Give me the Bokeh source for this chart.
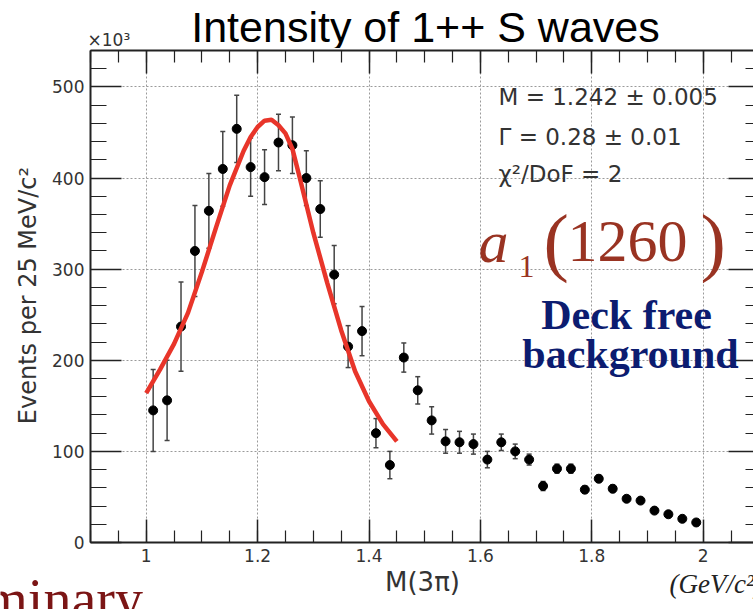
import math
from bokeh.plotting import figure
from bokeh.layouts import column, row
from bokeh.models import (ColumnDataSource, Whisker, TeeHead, LinearAxis,
                          FixedTicker, Label, Range1d)
from bokeh.embed import file_html
from bokeh.resources import INLINE

# 3-pion invariant mass, 25 MeV bins (GeV/c^2)
mass_bins = [1.0125, 1.0375, 1.0625, 1.0875, 1.1125, 1.1375, 1.1625, 1.1875,
             1.2125, 1.2375, 1.2625, 1.2875, 1.3125, 1.3375, 1.3625, 1.3875,
             1.4125, 1.4375, 1.4625, 1.4875, 1.5125, 1.5375, 1.5625, 1.5875,
             1.6125, 1.6375, 1.6625, 1.6875, 1.7125, 1.7375, 1.7625, 1.7875,
             1.8125, 1.8375, 1.8625, 1.8875, 1.9125, 1.9375, 1.9625, 1.9875]
# intensity of the 1++ S wave, in units of 10^3 events
events = [145, 156, 237, 320, 364, 410, 454, 412, 401, 439, 436, 400, 366, 294,
          215, 232, 120, 85, 203, 167, 134, 111, 110, 108, 91, 110, 100, 91,
          62, 81, 81, 58, 70, 59, 48, 46, 35, 31, 26, 22]
errors = [45, 44, 49, 50, 41, 41, 37, 32, 30, 31, 31, 30, 31, 32, 23, 27, 16,
          15, 16, 15, 15, 13, 12, 11, 9, 9, 8, 6, 5, 5, 5, 4, 4, 4, 3, 3, 3, 3,
          2, 2]

# a1(1260) resonance fit curve
fit_mass = [1.000, 1.025, 1.050, 1.075, 1.100, 1.125, 1.150, 1.175, 1.1875,
            1.200, 1.2125, 1.225, 1.2375, 1.250, 1.2625, 1.275, 1.300, 1.325,
            1.350, 1.375, 1.400, 1.425, 1.450]
fit_events = [164, 190, 218, 252, 297, 345, 392, 430, 445, 456, 463, 464, 458,
              449, 432, 402, 340, 285, 233, 188, 155, 130, 111]

x_major = [1.0, 1.2, 1.4, 1.6, 1.8, 2.0]
x_minor = [round(0.9 + 0.05 * i, 2) for i in range(25)]
y_major = [0, 100, 200, 300, 400, 500]
y_minor = list(range(0, 541, 20))

fit_text = ["M = 1.242 \u00b1 0.005", "\u0393 = 0.28 \u00b1 0.01", "\u03c7\u00b2/DoF = 2"]

# ---- page geometry (pixels) ----
W, H = 753, 609
TOP_H = 48                 # title strip
LEFT_W = 45                # strip holding the y-axis caption
BOTTOM_Y = 570             # where the caption strip below the plot starts
FL, FT, FB = 90, 50, 542   # plot frame left / top / bottom on the page

MAIN_W = W - LEFT_W
MAIN_H = BOTTOM_Y - TOP_H

X0, X1 = 0.9, 0.9 + (W - FL) / 557.0
Y0, Y1 = 0.0, 540.0

p = figure(width=MAIN_W, height=MAIN_H, x_range=(X0, X1), y_range=(Y0, Y1),
           output_backend="svg", toolbar_location=None,
           min_border_left=FL - LEFT_W, min_border_right=0,
           min_border_top=FT - TOP_H, min_border_bottom=BOTTOM_Y - FB,
           background_fill_color="white", border_fill_color="white",
           outline_line_color=None)

xt = FixedTicker(ticks=x_major, minor_ticks=x_minor)
yt = FixedTicker(ticks=y_major, minor_ticks=y_minor)

AX = "#222222"


def style_axis(ax, major_in, minor_in, ticks, labels=True):
    ax.axis_line_color = AX
    ax.axis_line_width = 2
    ax.major_tick_line_color = AX
    ax.minor_tick_line_color = AX
    ax.major_tick_line_width = 1.5
    ax.minor_tick_line_width = 1.2
    ax.major_tick_in = major_in
    ax.major_tick_out = 0
    ax.minor_tick_in = minor_in
    ax.minor_tick_out = 0
    if labels:
        ax.major_label_text_font = "DejaVu Sans"
        ax.major_label_text_font_size = "17px"
        ax.major_label_text_color = "#333333"
        ax.major_label_standoff = 6
    else:
        # frame ticks only, no numbers on this side
        ax.major_label_overrides = {t: "" for t in ticks}
        ax.major_label_text_color = None
        ax.major_label_text_font_size = "2px"
        ax.major_label_standoff = 0


p.xaxis.ticker = xt
p.yaxis.ticker = yt
p.xaxis.major_label_overrides = {1: "1", 2: "2"}
style_axis(p.xaxis[0], 23, 12, x_major)
style_axis(p.yaxis[0], 31, 16, y_major)

top = LinearAxis(ticker=xt)
style_axis(top, 23, 12, x_major, labels=False)
p.add_layout(top, "above")

right = LinearAxis(ticker=yt)
style_axis(right, 25, 8, y_major, labels=False)
right.axis_line_color = None
p.add_layout(right, "right")

for g, t in ((p.xgrid, xt), (p.ygrid, yt)):
    g.ticker = t
    g.grid_line_color = "#9a9a9a"
    g.grid_line_dash = "2 2"
    g.grid_line_width = 1

src = ColumnDataSource(dict(
    x=mass_bins, y=events,
    upper=[v + e for v, e in zip(events, errors)],
    lower=[v - e for v, e in zip(events, errors)],
))

whisk = Whisker(source=src, base="x", upper="upper", lower="lower",
                line_color="#444444", line_width=1.5,
                upper_head=TeeHead(size=5, line_color="#444444", line_width=1.5),
                lower_head=TeeHead(size=5, line_color="#444444", line_width=1.5))
p.add_layout(whisk)

p.scatter("x", "y", source=src, size=9, color="black")
p.line(fit_mass, fit_events, line_color="#e8352a", line_width=4.5)

# Label anchors sit a little below the true baseline in this renderer;
# lift them by this fraction of the font size.
LIFT = 0.36


def label(fig, text, sx, sy, size, font="DejaVu Sans", color="#333333",
          align="left", baseline="alphabetic", style="normal", angle=0.0,
          dx=0, dy=0):
    """text with its baseline at page pixel (sx, sy); dx, dy = figure offset"""
    if baseline == "alphabetic":
        sy = sy - LIFT * size
    if fig is p:
        x = X0 + (sx - FL) * (X1 - X0) / (W - FL)
        y = Y0 + (FB - sy) * (Y1 - Y0) / (FB - FT)
    else:
        x, y = sx - dx, sy - dy
    fig.add_layout(Label(x=x, y=y, text=text, text_font=font,
                         text_font_size=f"{size}px", text_color=color,
                         text_align=align, text_baseline=baseline,
                         text_font_style=style, angle=angle))


def strip(w, h):
    """blank canvas whose data units are its own pixels (y downwards)"""
    f = figure(width=w, height=h, x_range=Range1d(0, w), y_range=Range1d(h, 0),
               output_backend="svg", toolbar_location=None,
               x_axis_location=None, y_axis_location=None,
               min_border=0, outline_line_color=None,
               background_fill_color="white", border_fill_color="white")
    f.xgrid.visible = False
    f.ygrid.visible = False
    return f


top_strip = strip(W, TOP_H)
left_strip = strip(LEFT_W, MAIN_H)
bottom_strip = strip(W, H - BOTTOM_Y)

# title and axis captions
label(top_strip, "Intensity of 1++ S waves", 425, 42, 43,
      font="Liberation Sans", color="black", align="center")
label(top_strip, "\u00d710\u00b3", 87, 46, 17)
label(left_strip, "Events per 25 MeV/c\u00b2", 27, 308, 24, align="center",
      baseline="middle", angle=math.pi / 2, dy=TOP_H)
label(bottom_strip, "M(3\u03c0)", 422, 591, 26, align="center", dy=BOTTOM_Y)
label(bottom_strip, "(GeV/c\u00b2)", 669, 593, 27, font="Liberation Serif",
      color="#222222", style="italic", dy=BOTTOM_Y)
label(bottom_strip, "Preliminary", -122, 619, 56, font="Liberation Serif",
      color="#7b1515", dy=BOTTOM_Y)

# fit results
for txt, base in zip(fit_text, (105, 145, 182)):
    label(p, txt, 498, base, 23)

# resonance name
RES = "#993322"
label(p, "a", 478, 263, 60, font="Liberation Serif", color=RES, style="italic")
label(p, "1", 518, 278, 32, font="Liberation Serif", color=RES)
label(p, "(", 543, 268, 76, font="Liberation Serif", color=RES)
label(p, "1260", 567, 263, 60, font="Liberation Serif", color=RES)
label(p, ")", 700, 268, 76, font="Liberation Serif", color=RES)

NAVY = "#0c1c70"
label(p, "Deck free", 626, 330, 42, font="Liberation Serif", color=NAVY,
      align="center", style="bold")
label(p, "background", 630, 369, 42, font="Liberation Serif", color=NAVY,
      align="center", style="bold")

page = column(top_strip, row(left_strip, p, spacing=0), bottom_strip, spacing=0)

open("out.html", "w").write(file_html(page, INLINE))
